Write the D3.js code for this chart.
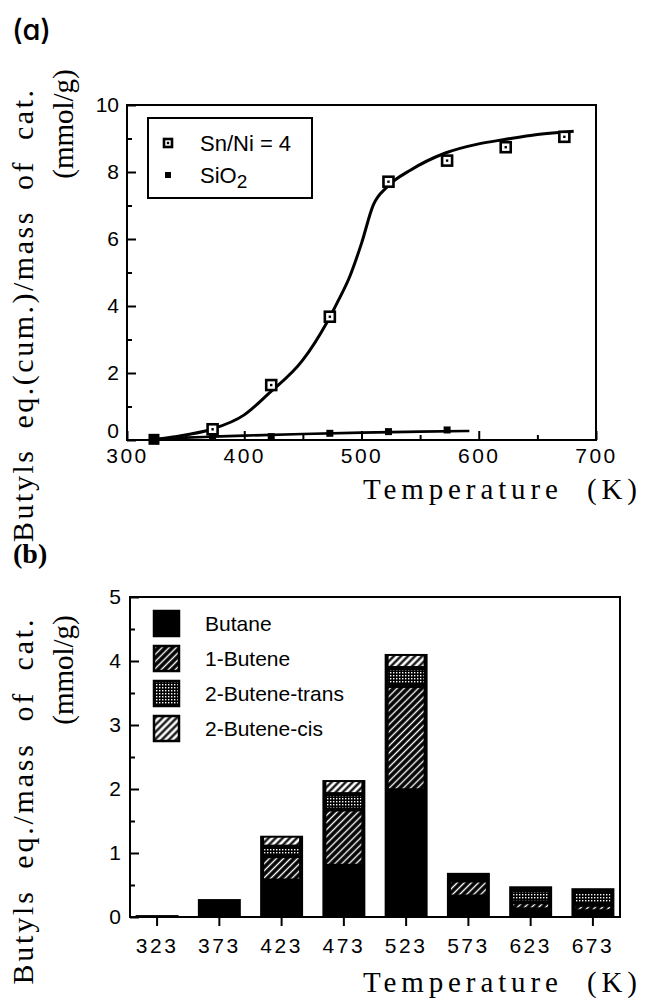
<!DOCTYPE html>
<html>
<head>
<meta charset="utf-8">
<script src="https://cdn.jsdelivr.net/npm/d3@7"></script>
<style>
  html, body { margin: 0; padding: 0; background: #fff; }
  svg { display: block; }
  .sans { font-family: "Liberation Sans", Arial, sans-serif; }
  .serif { font-family: "Liberation Serif", "Times New Roman", serif; white-space: pre; }
</style>
</head>
<body>
<svg id="fig" width="648" height="1001"></svg>
<script>
// ---------- Panel (a): cumulative butyl equivalents vs temperature ----------
const tempSnNi = [323, 373, 423, 473, 523, 573, 623, 673];
const snNiVals = [0.02, 0.32, 1.64, 3.68, 7.71, 8.34, 8.74, 9.05];
const tempSiO2 = [323, 373, 423, 473, 523, 573];
const sio2Vals = [0.02, 0.12, 0.10, 0.20, 0.25, 0.30];
// hand-drawn guide curves through each series
const snNiCurveT = [323, 341, 372, 400, 421, 450, 470, 479, 490, 500, 510, 522, 542, 571, 600, 622, 650, 681];
const snNiCurveV = [0.02, 0.10, 0.32, 0.75, 1.39, 2.39, 3.48, 4.08, 4.88, 5.87, 7.01, 7.56, 8.06, 8.56, 8.84, 8.97, 9.12, 9.22];
const sio2CurveT = [323, 350, 373, 400, 450, 500, 550, 592];
const sio2CurveV = [0.02, 0.07, 0.10, 0.13, 0.18, 0.22, 0.25, 0.27];
const xTicksA = [300, 400, 500, 600, 700];
const xMinorA = [350, 450, 550, 650];
const yTicksA = [0, 2, 4, 6, 8, 10];
const yMinorA = [1, 3, 5, 7, 9];
const legendA = ["Sn/Ni = 4", "SiO"];

// ---------- Panel (b): product distribution per temperature ----------
const tempLabels = ["323", "373", "423", "473", "523", "573", "623", "673"];
const butane   = [0.03, 0.21, 0.57, 0.80, 1.98, 0.32, 0.12, 0.09];
const butene1  = [0.00, 0.05, 0.38, 0.88, 1.63, 0.25, 0.11, 0.10];
const butene2t = [0.00, 0.00, 0.15, 0.24, 0.28, 0.07, 0.19, 0.20];
const butene2c = [0.00, 0.02, 0.17, 0.22, 0.22, 0.05, 0.06, 0.06];
const productNames = ["Butane", "1-Butene", "2-Butene-trans", "2-Butene-cis"];
const yTicksB = [0, 1, 2, 3, 4, 5];
const yMinorB = [0.5, 1.5, 2.5, 3.5, 4.5];

const svg = d3.select("#fig");
svg.append("rect").attr("width", 648).attr("height", 1001).attr("fill", "#fff");

// ---------- fill patterns ----------
const defs = svg.append("defs");
function stripes(id, bg, fg, w) {
  const p = defs.append("pattern").attr("id", id)
    .attr("patternUnits", "userSpaceOnUse").attr("width", 5).attr("height", 5)
    .attr("patternTransform", "rotate(45)");
  p.append("rect").attr("width", 5).attr("height", 5).attr("fill", bg);
  p.append("line").attr("x1", 2.5).attr("x2", 2.5).attr("y1", 0).attr("y2", 5)
    .attr("stroke", fg).attr("stroke-width", w);
}
stripes("pat-b1", "#000", "#fff", 1.4);
stripes("pat-b2c", "#fff", "#000", 2.2);
{
  const p = defs.append("pattern").attr("id", "pat-b2t")
    .attr("patternUnits", "userSpaceOnUse").attr("width", 3).attr("height", 3);
  p.append("rect").attr("width", 3).attr("height", 3).attr("fill", "#000");
  p.append("rect").attr("width", 1.4).attr("height", 1.4).attr("fill", "#fff");
}
const fills = ["#000", "url(#pat-b1)", "url(#pat-b2t)", "url(#pat-b2c)"];

// =================== Panel (a) ===================
const xA = d3.scaleLinear().domain([300, 700]).range([127, 596]);
const yA = d3.scaleLinear().domain([0, 10]).range([440, 105]);

svg.append("text").attr("x", 12).attr("y", 40)
  .style("font-family", "Inter, 'Liberation Sans', sans-serif")
  .style("font-feature-settings", "'cv11'")
  .style("font-size", "29px").style("font-weight", 500)
  .text("(a)");

const gA = svg.append("g");
gA.append("g").attr("transform", `translate(${xA.range()[0]},0)`)
  .call(d3.axisLeft(yA).tickValues(yMinorA).tickSize(-5).tickFormat(""))
  .call(g => g.select(".domain").remove());
gA.append("g").attr("transform", `translate(0,${yA(0)})`)
  .call(d3.axisBottom(xA).tickValues(xMinorA).tickSize(-5).tickFormat(""))
  .call(g => g.select(".domain").remove());
const yAxA = gA.append("g").attr("transform", `translate(${xA.range()[0]},0)`)
  .call(d3.axisLeft(yA).tickValues(yTicksA).tickSize(-9).tickPadding(8).tickFormat(d3.format("d")))
  .call(g => g.select(".domain").remove());
yAxA.selectAll("text").attr("class", "sans").style("font-size", "21px").attr("fill", "#000");
// the zero label sits just above the corner so it clears the 300 label
yAxA.selectAll(".tick").filter(d => d === 0).select("text").attr("dy", "-0.1em");
const xAxA = gA.append("g").attr("transform", `translate(0,${yA(0)})`)
  .call(d3.axisBottom(xA).tickValues(xTicksA).tickSize(-9).tickPadding(8).tickFormat(d3.format("d")))
  .call(g => g.select(".domain").remove());
xAxA.selectAll("text").attr("class", "sans").style("font-size", "21px")
  .style("letter-spacing", "2.5px").attr("fill", "#000");
gA.selectAll(".tick line").attr("stroke", "#000").attr("stroke-width", 2);

gA.append("rect").attr("x", xA.range()[0]).attr("y", yA.range()[1])
  .attr("width", xA.range()[1] - xA.range()[0]).attr("height", yA.range()[0] - yA.range()[1])
  .attr("fill", "none").attr("stroke", "#000").attr("stroke-width", 2);

const lineA = d3.line().x(d => xA(d[0])).y(d => yA(d[1])).curve(d3.curveMonotoneX);
gA.append("path").datum(d3.zip(sio2CurveT, sio2CurveV)).attr("d", lineA)
  .attr("fill", "none").attr("stroke", "#000").attr("stroke-width", 2.6);
gA.append("path").datum(d3.zip(snNiCurveT, snNiCurveV)).attr("d", lineA)
  .attr("fill", "none").attr("stroke", "#000").attr("stroke-width", 3);

function openSquare(sel, s) {
  sel.append("rect").attr("x", -s / 2).attr("y", -s / 2).attr("width", s).attr("height", s)
    .attr("fill", "#fff").attr("stroke", "#000").attr("stroke-width", 2.6);
  sel.append("rect").attr("x", -1.2).attr("y", -1.2).attr("width", 2.4).attr("height", 2.4).attr("fill", "#000");
}
function filledSquare(sel, s) {
  sel.append("rect").attr("x", -s / 2).attr("y", -s / 2).attr("width", s).attr("height", s).attr("fill", "#000");
}
gA.selectAll(".ptSio2").data(d3.zip(tempSiO2, sio2Vals)).join("g")
  .attr("transform", d => `translate(${xA(d[0])},${yA(d[1])})`)
  .call(filledSquare, 7);
gA.selectAll(".ptSnNi").data(d3.zip(tempSnNi, snNiVals)).join("g")
  .attr("transform", d => `translate(${xA(d[0])},${yA(d[1])})`)
  .each(function (d) {
    const s = d3.select(this);
    if (d[0] === 323) filledSquare(s, 11); else openSquare(s, 10);
  });

// legend (a)
const legA = gA.append("g");
legA.append("rect").attr("x", 148).attr("y", 118).attr("width", 164).attr("height", 80)
  .attr("fill", "#fff").attr("stroke", "#000").attr("stroke-width", 2);
const legRowsA = [143, 175];
openSquare(legA.append("g").attr("transform", `translate(168,${legRowsA[0]})`), 8);
filledSquare(legA.append("g").attr("transform", `translate(168,${legRowsA[1]})`), 6);
legA.append("text").attr("class", "sans").attr("x", 200).attr("y", legRowsA[0] + 8)
  .style("font-size", "22px").text(legendA[0]);
const sioT = legA.append("text").attr("class", "sans").attr("x", 200).attr("y", legRowsA[1] + 8)
  .style("font-size", "22px");
sioT.append("tspan").text(legendA[1]);
sioT.append("tspan").attr("dy", 5).style("font-size", "19px").text("2");

// axis titles (a)
svg.append("text").attr("class", "serif")
  .attr("transform", "translate(33,316) rotate(-90)").attr("text-anchor", "middle")
  .attr("textLength", 452).attr("lengthAdjust", "spacing")
  .style("font-size", "30px").text("Butyls  eq.(cum.)/mass  of  cat.");
svg.append("text").attr("class", "serif")
  .attr("transform", "translate(73,124) rotate(-90)").attr("text-anchor", "middle")
  .style("font-size", "29px").text("(mmol/g)");
svg.append("text").attr("class", "serif").attr("x", 363).attr("y", 499)
  .attr("textLength", 274).attr("lengthAdjust", "spacing")
  .style("font-size", "29px").text("Temperature  (K)");

// =================== Panel (b) ===================
const xB = d3.scaleBand().domain(tempLabels).range([130, 620]).paddingInner(0.31).paddingOuter(0.09);
const yB = d3.scaleLinear().domain([0, 5]).range([917, 597]);

svg.append("text").attr("class", "serif").attr("x", 13).attr("y", 563)
  .style("font-size", "28px").style("font-weight", "bold").text("(b)");

const gB = svg.append("g");
gB.append("g").attr("transform", `translate(${xB.range()[0]},0)`)
  .call(d3.axisLeft(yB).tickValues(yMinorB).tickSize(-5).tickFormat(""))
  .call(g => g.select(".domain").remove());
const yAxB = gB.append("g").attr("transform", `translate(${xB.range()[0]},0)`)
  .call(d3.axisLeft(yB).tickValues(yTicksB).tickSize(-9).tickPadding(9).tickFormat(d3.format("d")))
  .call(g => g.select(".domain").remove());
yAxB.selectAll("text").attr("class", "sans").style("font-size", "21px").attr("fill", "#000");
const xAxB = gB.append("g").attr("transform", `translate(0,${yB(0)})`)
  .call(d3.axisBottom(xB).tickSize(9).tickPadding(12))
  .call(g => g.select(".domain").remove());
xAxB.selectAll("text").attr("class", "sans").style("font-size", "21px")
  .style("letter-spacing", "2.5px").attr("fill", "#000");
gB.selectAll(".tick line").attr("stroke", "#000").attr("stroke-width", 2);

gB.append("rect").attr("x", xB.range()[0]).attr("y", yB.range()[1])
  .attr("width", xB.range()[1] - xB.range()[0]).attr("height", yB.range()[0] - yB.range()[1])
  .attr("fill", "none").attr("stroke", "#000").attr("stroke-width", 2);

// stacked bars
const rows = tempLabels.map((t, i) => ({
  t, b0: butane[i], b1: butene1[i], b2t: butene2t[i], b2c: butene2c[i]
}));
const keys = ["b0", "b1", "b2t", "b2c"];
const stacked = d3.stack().keys(keys)(rows);
const totals = rows.map(r => keys.reduce((s, k) => s + r[k], 0));

gB.selectAll(".barBody").data(rows).join("rect")
  .attr("x", d => xB(d.t)).attr("width", xB.bandwidth())
  .attr("y", (d, i) => yB(totals[i])).attr("height", (d, i) => yB(0) - yB(totals[i]))
  .attr("fill", "#000");
stacked.forEach((layer, li) => {
  if (li === 0) return;
  gB.selectAll(".seg" + li).data(layer).join("rect")
    .attr("x", d => xB(d.data.t) + 4).attr("width", xB.bandwidth() - 8)
    .attr("y", d => yB(d[1]) + 2)
    .attr("height", d => Math.max(0, yB(d[0]) - yB(d[1]) - 4))
    .attr("fill", fills[li]);
});

// legend (b)
const legRowsB = [623, 658, 693, 728];
const legB = gB.append("g");
productNames.forEach((name, i) => {
  legB.append("rect").attr("x", 154).attr("y", legRowsB[i] - 12).attr("width", 25).attr("height", 25)
    .attr("fill", fills[i]).attr("stroke", "#000").attr("stroke-width", 2.5);
  legB.append("text").attr("class", "sans").attr("x", 205).attr("y", legRowsB[i] + 8)
    .style("font-size", "21px").text(name);
});

// axis titles (b)
svg.append("text").attr("class", "serif")
  .attr("transform", "translate(33,802) rotate(-90)").attr("text-anchor", "middle")
  .attr("textLength", 365).attr("lengthAdjust", "spacing")
  .style("font-size", "30px").text("Butyls  eq./mass  of  cat.");
svg.append("text").attr("class", "serif")
  .attr("transform", "translate(73,670) rotate(-90)").attr("text-anchor", "middle")
  .style("font-size", "29px").text("(mmol/g)");
svg.append("text").attr("class", "serif").attr("x", 363).attr("y", 992)
  .attr("textLength", 274).attr("lengthAdjust", "spacing")
  .style("font-size", "29px").text("Temperature  (K)");
</script>
</body>
</html>
